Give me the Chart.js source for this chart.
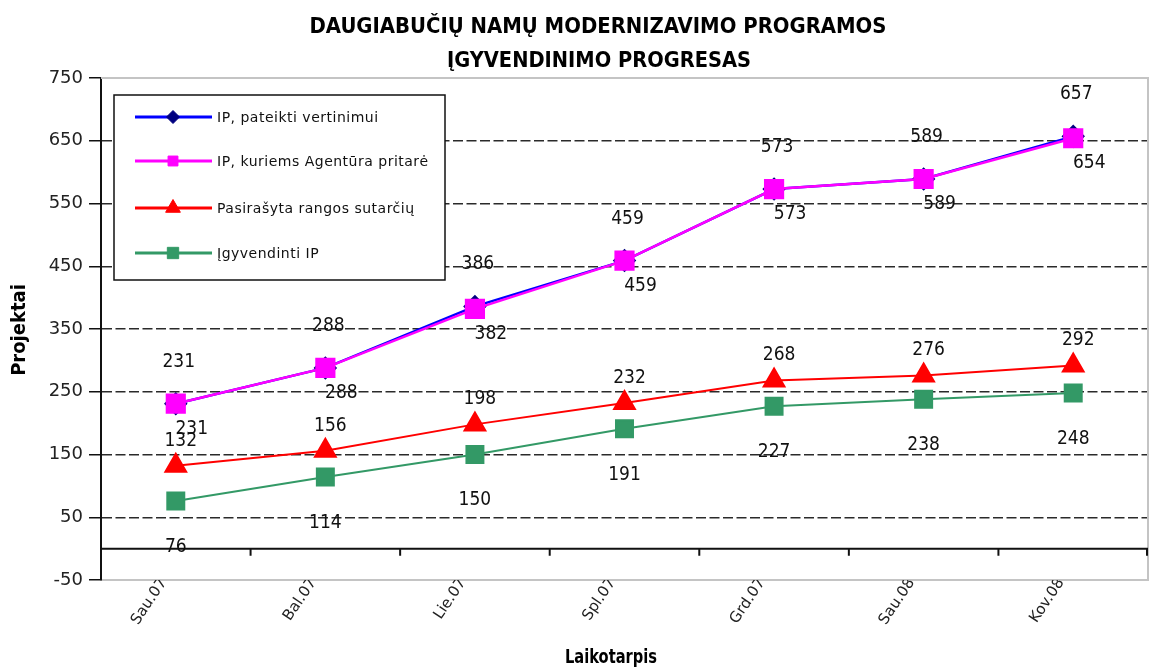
<!DOCTYPE html>
<html><head><meta charset="utf-8">
<script src="https://cdn.jsdelivr.net/npm/chart.js@4.4.0/dist/chart.umd.min.js"></script>
<style>html,body{margin:0;padding:0;background:#fff}</style>
</head><body>
<canvas id="c" width="1151" height="670"></canvas>
<script>
// ---- data ----
const categories = ["Sau.07", "Bal.07", "Lie.07", "Spl.07", "Grd.07", "Sau.08", "Kov.08"];
const submitted = [231, 288, 386, 459, 573, 589, 657];
const approved = [231, 288, 382, 459, 573, 589, 654];
const contracts = [132, 156, 198, 232, 268, 276, 292];
const implemented = [76, 114, 150, 191, 227, 238, 248];
const seriesNames = ["IP, pateikti vertinimui", "IP, kuriems Agentūra pritarė", "Pasirašyta rangos sutarčių", "Įgyvendinti IP"];
const titleLines = ["DAUGIABUČIŲ NAMŲ MODERNIZAVIMO PROGRAMOS", "ĮGYVENDINIMO PROGRESAS"];
const yTitle = "Projektai";
const xTitle = "Laikotarpis";
const yMin = -50, yMax = 750, yStep = 100;

const COND = "'DejaVu Sans Condensed', 'DejaVu Sans', sans-serif";
const SANS = "'DejaVu Sans', sans-serif";

const plotDecor = {
  id: 'plotDecor',
  beforeDatasetsDraw(chart) {
    const {ctx, chartArea: a, scales: {x, y}} = chart;
    ctx.save();
    // gray top & right border
    ctx.strokeStyle = '#c4c4c4';
    ctx.lineWidth = 2;
    ctx.beginPath();
    ctx.moveTo(a.left, a.top); ctx.lineTo(a.right, a.top); ctx.lineTo(a.right, a.bottom);
    ctx.stroke();
    // zero line with category tick marks
    const y0 = y.getPixelForValue(0);
    ctx.strokeStyle = '#111';
    ctx.lineWidth = 2;
    ctx.beginPath();
    ctx.moveTo(a.left, y0); ctx.lineTo(a.right, y0);
    const w = x.getPixelForValue(1) - x.getPixelForValue(0);
    for (let i = 1; i <= categories.length; i++) {
      const bx = Math.min(x.getPixelForValue(0) - w / 2 + i * w, a.right - 1);
      ctx.moveTo(bx, y0); ctx.lineTo(bx, y0 + 7);
    }
    ctx.stroke();
    ctx.restore();
  },
  afterDatasetsDraw(chart) {
    const {ctx, chartArea: a} = chart;
    ctx.save();
    // data labels
    ctx.font = "19px " + COND;
    ctx.fillStyle = '#111';
    ctx.textAlign = 'center';
    ctx.textBaseline = 'middle';
    chart.data.datasets.forEach((ds, di) => {
      const meta = chart.getDatasetMeta(di);
      meta.data.forEach((el, i) => {
        ctx.fillText(String(ds.data[i]), el.x + ds.labelDx, el.y + ds.labelDy);
      });
    });
    // legend box
    const lx = a.left + 13, ly = a.top + 17, lw = 331, lh = 185;
    ctx.fillStyle = '#fff';
    ctx.fillRect(lx, ly, lw, lh);
    ctx.strokeStyle = '#111';
    ctx.lineWidth = 1.5;
    ctx.strokeRect(lx, ly, lw, lh);
    const rowY = [22, 66, 113, 158];
    const legR = [6.5, 7, 8.5, 8];
    chart.data.datasets.forEach((ds, di) => {
      const yy = ly + rowY[di];
      ctx.strokeStyle = ds.borderColor;
      ctx.lineWidth = 3;
      ctx.beginPath();
      ctx.moveTo(lx + 21, yy); ctx.lineTo(lx + 98, yy);
      ctx.stroke();
      ctx.fillStyle = ds.pointBackgroundColor;
      ctx.strokeStyle = ds.pointBorderColor;
      ctx.lineWidth = 1;
      Chart.helpers.drawPoint(ctx, {pointStyle: ds.pointStyle, radius: legR[di], rotation: 0, borderWidth: 1}, lx + 59, yy);
      ctx.fillStyle = '#111';
      ctx.font = "14px " + SANS;
      ctx.letterSpacing = '0.5px';
      ctx.textAlign = 'left';
      ctx.textBaseline = 'middle';
      ctx.fillText(ds.label, lx + 103, yy + 1);
      ctx.letterSpacing = '0px';
    });
    ctx.restore();
  },
  afterDraw(chart) {
    const {ctx, chartArea: a} = chart;
    ctx.save();
    ctx.fillStyle = '#000';
    ctx.textAlign = 'center';
    ctx.textBaseline = 'middle';
    // chart title
    ctx.font = "bold 22px " + COND;
    ctx.fillText(titleLines[0], 598, 27, 577);
    ctx.fillText(titleLines[1], 599, 61, 304);
    // x axis title
    ctx.font = "bold 20px " + COND;
    ctx.fillText(xTitle, 611, 658, 92);
    // y axis title
    ctx.translate(20, (a.top + a.bottom) / 2 + 1);
    ctx.rotate(-Math.PI / 2);
    ctx.font = "bold 20px " + COND;
    ctx.fillText(yTitle, 0, 0, 99);
    ctx.restore();
  }
};

new Chart(document.getElementById('c'), {
  type: 'line',
  data: {
    labels: categories,
    datasets: [
      {label: seriesNames[0], data: submitted, borderColor: '#0000ff', borderWidth: 2.5,
       pointStyle: 'rectRot', pointRadius: 10, pointBackgroundColor: '#000080', pointBorderColor: '#000080',
       order: 2, labelDx: 3, labelDy: -42},
      {label: seriesNames[1], data: approved, borderColor: '#ff00ff', borderWidth: 2.5,
       pointStyle: 'rect', pointRadius: 12.5, pointBackgroundColor: '#ff00ff', pointBorderColor: '#ff00ff',
       order: 1, labelDx: 16, labelDy: 25},
      {label: seriesNames[2], data: contracts, borderColor: '#ff0000', borderWidth: 2,
       pointStyle: 'triangle', pointRadius: 12, pointBackgroundColor: '#ff0000', pointBorderColor: '#ff0000',
       order: 0, labelDx: 5, labelDy: -25},
      {label: seriesNames[3], data: implemented, borderColor: '#339966', borderWidth: 2,
       pointStyle: 'rect', pointRadius: 12, pointBackgroundColor: '#339966', pointBorderColor: '#339966',
       order: 0, labelDx: 0, labelDy: 46}
    ]
  },
  options: {
    responsive: false,
    animation: false,
    devicePixelRatio: 1,
    layout: {autoPadding: false, padding: {left: 0, right: 3, top: 78, bottom: 0}},
    plugins: {
      legend: {display: false},
      tooltip: {enabled: false},
      title: {display: false}
    },
    elements: {line: {tension: 0}},
    scales: {
      x: {
        offset: true,
        grid: {display: false, drawTicks: false},
        border: {display: true, color: '#c4c4c4', width: 2},
        ticks: {color: '#222', font: {family: SANS, size: 15}, maxRotation: 56, minRotation: 56, autoSkip: false, padding: -5, labelOffset: -12},
        afterFit(s) { s.height = 90; s.paddingLeft = 0; s.paddingRight = 0; }
      },
      y: {
        min: yMin, max: yMax,
        ticks: {stepSize: yStep, color: '#222', font: {family: SANS, size: 18}, padding: 6},
        grid: {
          color: c => (c.tick && (c.tick.value === yMin || c.tick.value === yMax)) ? 'rgba(0,0,0,0)' : '#2a2a2a',
          lineWidth: 1.5, tickColor: '#111', tickLength: 12, tickBorderDash: [], tickWidth: 1.5
        },
        border: {display: true, color: '#111', width: 2, dash: [10, 3.5]},
        afterFit(s) { s.width = 101; }
      }
    }
  },
  plugins: [plotDecor]
});
</script>
</body></html>
